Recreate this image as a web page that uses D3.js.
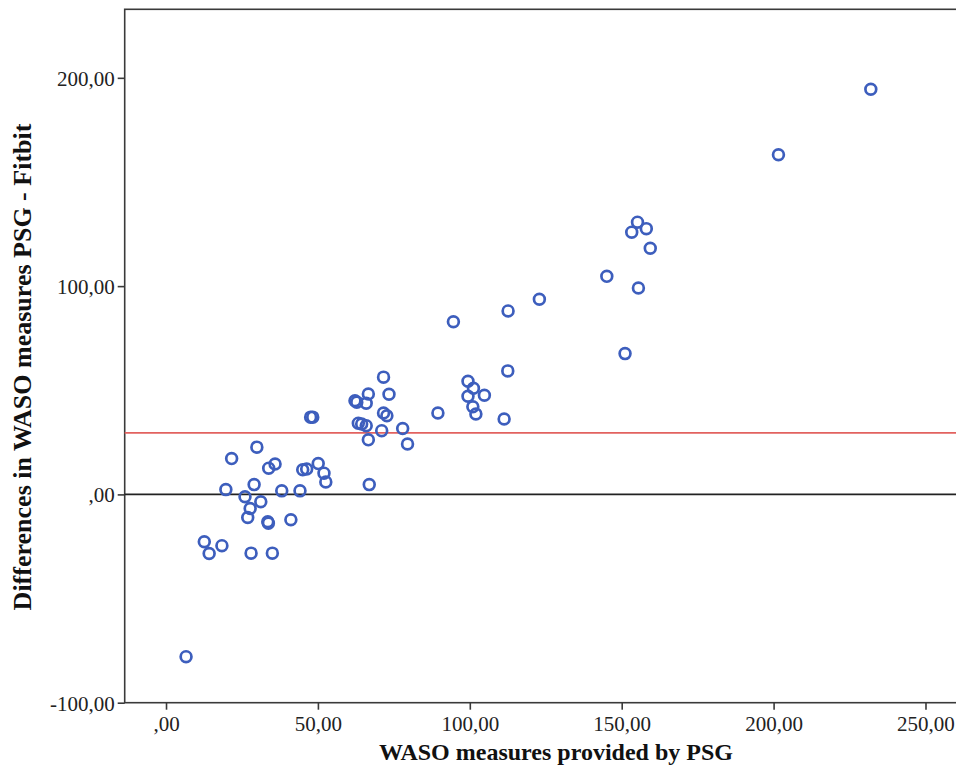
<!DOCTYPE html>
<html>
<head>
<meta charset="utf-8">
<script src="https://cdn.jsdelivr.net/npm/d3@7"></script>
<style>
  body { margin: 0; background: #fff; }
  svg { display: block; }
</style>
</head>
<body>
<svg class="bland-altman"></svg>
<script>
// WASO by PSG (x) and PSG - Fitbit difference (y)
var wasoPsg = [6.6, 12.6, 14.2, 18.4, 21.6, 19.7, 28.0, 35.0, 29.0, 29.9,
  26.0, 27.7, 26.9, 31.2, 33.5, 33.7, 33.8, 35.9, 38.1, 41.1,
  44.1, 45.0, 46.3, 50.1, 52.0, 52.6, 47.6, 48.3, 62.2, 62.8,
  65.9, 66.6, 63.3, 64.4, 65.9, 66.6, 66.9, 71.6, 73.4, 71.6,
  72.7, 71.0, 77.9, 79.5, 89.5, 94.6, 99.4, 101.2, 99.4, 101.0,
  102.0, 104.8, 111.3, 112.6, 112.5, 122.9, 145.1, 151.1, 155.2, 153.3,
  158.1, 159.4, 155.5, 201.6, 232.0];
var wasoDiff = [-77.9, -22.7, -28.4, -24.6, 17.2, 2.3, -28.2, -28.2, 4.7, 22.7,
  -1.1, -6.8, -11.1, -3.5, -13.1, -13.8, 12.6, 14.6, 1.7, -12.2,
  1.7, 11.8, 12.2, 14.8, 10.2, 6.0, 37.1, 37.1, 45.0, 44.3,
  43.8, 48.2, 34.2, 33.8, 33.0, 26.2, 4.7, 56.3, 48.1, 39.1,
  37.8, 30.6, 31.6, 24.2, 39.1, 82.9, 54.3, 51.0, 47.1, 42.1,
  38.6, 47.6, 36.2, 88.1, 59.3, 93.7, 104.7, 67.6, 130.7, 125.9,
  127.6, 118.2, 99.1, 163.1, 194.5];
var meanDiff = 29.5;

var xTicks = [0, 50, 100, 150, 200, 250];
var xTickLabels = [',00', '50,00', '100,00', '150,00', '200,00', '250,00'];
var yTicks = [-100, 0, 100, 200];
var yTickLabels = ['-100,00', ',00', '100,00', '200,00'];

var svgWidth = 956, svgHeight = 772;
var plotLeft = 124.7, plotRight = 958, plotTop = 9.3, plotBottom = 702.7;
var serif = '"Liberation Serif", "Times New Roman", serif';

var svg = d3.select('.bland-altman')
  .attr('width', svgWidth)
  .attr('height', svgHeight);

var x = d3.scaleLinear()
  .domain([-13.6, 260.7])
  .range([plotLeft, plotRight]);

var y = d3.scaleLinear()
  .domain([-100, 232.9])
  .range([plotBottom, plotTop]);

// frame
svg.append('rect')
  .attr('x', plotLeft)
  .attr('y', plotTop)
  .attr('width', plotRight - plotLeft)
  .attr('height', plotBottom - plotTop)
  .attr('fill', 'none')
  .attr('stroke', '#3a3a3a')
  .attr('stroke-width', 1.6);

// axes
var xAxis = d3.axisBottom(x)
  .tickValues(xTicks)
  .tickSize(7)
  .tickPadding(6)
  .tickFormat(function(d, i) { return xTickLabels[i]; });

var yAxis = d3.axisLeft(y)
  .tickValues(yTicks)
  .tickSize(7)
  .tickPadding(3)
  .tickFormat(function(d, i) { return yTickLabels[i]; });

var gx = svg.append('g')
  .attr('transform', 'translate(0,' + plotBottom + ')')
  .call(xAxis);

var gy = svg.append('g')
  .attr('transform', 'translate(' + plotLeft + ',0)')
  .call(yAxis);

[gx, gy].forEach(function(g) {
  g.select('.domain').remove();
  g.selectAll('line').attr('stroke', '#3a3a3a').attr('stroke-width', 1.6);
  g.selectAll('text')
    .attr('fill', '#222')
    .style('font-family', serif)
    .style('font-size', '21px');
});
gy.selectAll('text').attr('dy', '0.36em');

// zero line and mean difference line
svg.append('line')
  .attr('x1', plotLeft).attr('x2', plotRight)
  .attr('y1', y(0)).attr('y2', y(0))
  .attr('stroke', '#222')
  .attr('stroke-width', 1.6);

svg.append('line')
  .attr('x1', plotLeft).attr('x2', plotRight)
  .attr('y1', y(meanDiff)).attr('y2', y(meanDiff))
  .attr('stroke', '#e2625f')
  .attr('stroke-width', 1.8);

// points
svg.selectAll('circle.pt')
  .data(wasoPsg)
  .enter()
  .append('circle')
  .attr('class', 'pt')
  .attr('cx', function(d) { return x(d); })
  .attr('cy', function(d, i) { return y(wasoDiff[i]); })
  .attr('r', 5.4)
  .attr('fill', 'none')
  .attr('stroke', '#3d5ebd')
  .attr('stroke-width', 2.7);

// axis titles
svg.append('text')
  .text('WASO measures provided by PSG')
  .attr('x', 556)
  .attr('y', 760)
  .attr('text-anchor', 'middle')
  .attr('fill', '#111')
  .style('font-family', serif)
  .style('font-weight', 'bold')
  .style('font-size', '24px');

svg.append('text')
  .text('Differences in WASO measures PSG - Fitbit')
  .attr('transform', 'translate(31,' + 367 + ') rotate(-90)')
  .attr('text-anchor', 'middle')
  .attr('fill', '#111')
  .style('font-family', serif)
  .style('font-weight', 'bold')
  .style('font-size', '26px');
</script>
</body>
</html>
